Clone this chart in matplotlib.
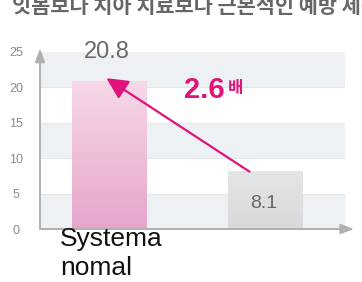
import numpy as np
import matplotlib
matplotlib.use("Agg")
import matplotlib.pyplot as plt

# data
labels = ["Systema\nnomal", ""]
values = [20.8, 8.1]
value_text = ["20.8", "8.1"]
ratio_text = "2.6"
yticks = [0, 5, 10, 15, 20, 25]
top_text = "잇몸보다 치아 치료보다 근본적인 예방 제품"

plt.rcParams['font.family'] = ['Liberation Sans', 'Noto Sans CJK KR', 'DejaVu Sans']

W, H = 362, 282
fig = plt.figure(figsize=(W / 100, H / 100), dpi=100)
fig.patch.set_facecolor("white")

# axes in pixel coordinates
x0, x1 = 40, 345
y0, y25 = 229, 52
ax = fig.add_axes([x0 / W, (H - y0) / H, (x1 - x0) / W, (y0 - y25) / H])
ax.set_facecolor("white")

# background bands
for lo in [0, 10, 20]:
    ax.axhspan(lo, lo + 5, color="#eef1f3", zorder=0, lw=0)
for t in yticks[1:-1]:
    ax.axhline(t, color="#e4e7ea", lw=0.8, zorder=0.5)

# gradient bars
w = 0.48
cmaps = [
    matplotlib.colors.LinearSegmentedColormap.from_list("p", ["#e6a6ca", "#f7d8e9"]),
    matplotlib.colors.LinearSegmentedColormap.from_list("g", ["#d8d9da", "#e4e5e6"]),
]
grad = np.linspace(0, 1, 100).reshape(-1, 1)
for i, v in enumerate(values):
    ax.imshow(grad, extent=[i - w / 2, i + w / 2, 0, v], origin="lower",
              cmap=cmaps[i], aspect="auto", zorder=1)
ax.set_xlim(-0.447, 1.514)
ax.set_ylim(0, 25)

# value labels
ax.text(-0.02, 25.0, value_text[0], ha="center", va="center", fontsize=17,
        color="#6a6a6a", zorder=5, clip_on=False)
ax.text(0.99, 3.6, value_text[1], ha="center", va="center", fontsize=14,
        color="#666666", zorder=5)

# ratio arrow
mag = "#e0137a"
ax.annotate("", xy=(-0.02, values[0] + 0.5), xytext=(0.9, values[1]),
            arrowprops=dict(arrowstyle="-|>,head_length=1.3,head_width=0.65",
                            color=mag, lw=1.6, shrinkA=0, shrinkB=0), zorder=6)
ax.text(0.48, 19.7, ratio_text, ha="left", va="center", fontsize=21,
        fontweight="bold", color=mag, zorder=6)
ax.text(0.76, 19.9, "배", ha="left", va="center", fontsize=12,
        fontweight="bold", color=mag, family=["Noto Sans CJK KR"], zorder=6)

# axes style
for s in ["top", "right", "left", "bottom"]:
    ax.spines[s].set_visible(False)
ax.set_xticks([])
ax.set_yticks(yticks)
ax.set_yticklabels([str(t) for t in yticks], fontsize=9, color="#8a8a8a")
ax.tick_params(axis="y", length=0, pad=17)
for lab in ax.get_yticklabels():
    lab.set_horizontalalignment("center")

axis_col = "#b0b0b0"
ax.annotate("", xy=(0, 1.02), xycoords="axes fraction", xytext=(0, 0),
            textcoords="axes fraction",
            arrowprops=dict(arrowstyle="-|>,head_length=0.8,head_width=0.3",
                            color=axis_col, lw=1.4, shrinkA=0, shrinkB=0))
ax.annotate("", xy=(1.03, 0), xycoords="axes fraction", xytext=(0, 0),
            textcoords="axes fraction",
            arrowprops=dict(arrowstyle="-|>,head_length=0.8,head_width=0.3",
                            color=axis_col, lw=1.4, shrinkA=0, shrinkB=0))

# category label
ax.text(-0.318, 0.3, labels[0], ha="left", va="top", fontsize=19,
        color="#111111", linespacing=1.25, clip_on=False)

# cut-off title line at the top
fig.text(12 / W, 1 - 13 / H, top_text, ha="left", va="baseline", fontsize=15,
         fontweight="bold", color="#666666", family=["Noto Sans CJK KR"])

fig.savefig("out.png", dpi=100, facecolor="white")
